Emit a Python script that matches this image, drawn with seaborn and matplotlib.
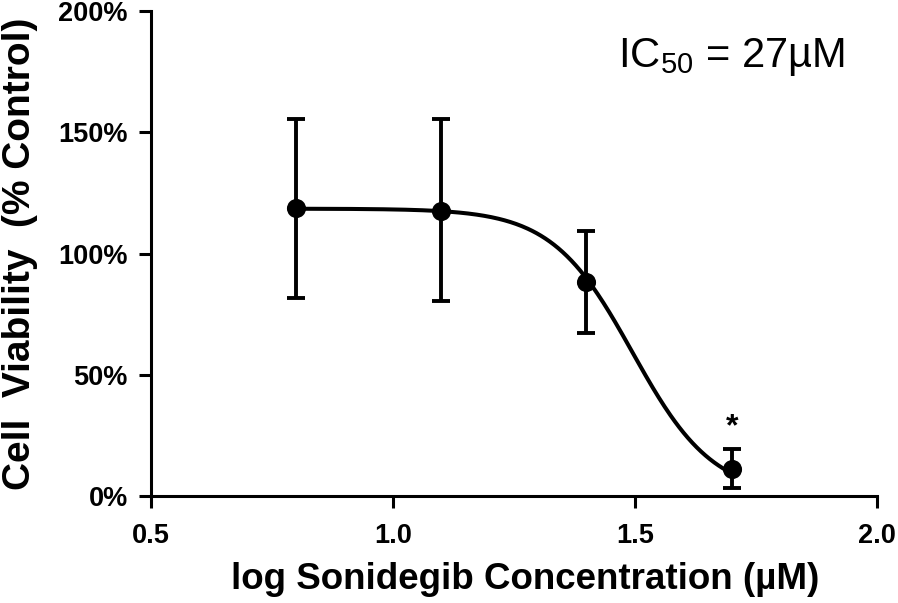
import numpy as np
import pandas as pd
import matplotlib
matplotlib.use("Agg")
import matplotlib.pyplot as plt
import seaborn as sns

# values
log_conc = [0.8, 1.1, 1.4, 1.7]
viability = [118.6, 117.7, 88.1, 11.0]
err_low = [81.6, 80.3, 67.3, 3.2]
err_high = [155.5, 155.5, 109.3, 19.3]
signif = ["", "", "", "*"]

# 4-parameter logistic fit, parameters estimated from the drawn curve
fit_top = 118.5
fit_bottom = 0.0
fit_logic50 = 1.495
fit_hill = 5.2

x_ticks = [0.5, 1.0, 1.5, 2.0]
y_ticks = [0, 50, 100, 150, 200]

sns.set_theme(style="ticks")
plt.rcParams["font.family"] = ["Liberation Sans", "DejaVu Sans"]
plt.rcParams["text.color"] = "black"
plt.rcParams["axes.labelcolor"] = "black"
plt.rcParams["mathtext.fontset"] = "custom"
plt.rcParams["mathtext.rm"] = "Liberation Sans"
plt.rcParams["mathtext.it"] = "Liberation Sans:italic"

df = pd.DataFrame({"logc": log_conc, "viab": viability})
xs = np.linspace(min(log_conc), max(log_conc), 300)
fit = pd.DataFrame({
    "logc": xs,
    "viab": fit_bottom + (fit_top - fit_bottom) / (1 + 10 ** ((xs - fit_logic50) * fit_hill)),
})

fig = plt.figure(figsize=(8.98, 6.03), dpi=100)
ax = fig.add_axes([0.168, 0.1774, 0.8085, 0.8043])

sns.lineplot(data=fit, x="logc", y="viab", color="black", linewidth=2.9, ax=ax)
yerr = [np.array(viability) - np.array(err_low), np.array(err_high) - np.array(viability)]
ax.errorbar(log_conc, viability, yerr=yerr, fmt="none", ecolor="black",
            elinewidth=2.8, capsize=6.5, capthick=2.8, zorder=3)
sns.scatterplot(data=df, x="logc", y="viab", color="black", s=190,
                edgecolor="black", linewidth=0, zorder=4, ax=ax)

for x, hi, s in zip(log_conc, err_high, signif):
    if s:
        ax.text(x, hi + 3, s, ha="center", va="bottom", fontsize=23, fontweight="bold")

ax.text(1.465, 177, "IC$_{50}$ = 27µM", fontsize=30, ha="left", va="baseline")

ax.set_xlim(0.5, 2.0)
ax.set_ylim(0, 200)
ax.set_xticks(x_ticks)
ax.set_xticklabels([f"{t:.1f}" for t in x_ticks])
ax.set_yticks(y_ticks)
ax.set_yticklabels([f"{t}%" for t in y_ticks])
ax.tick_params(direction="out", length=8.6, width=2.2, labelsize=19.5, colors="black")
ax.tick_params(axis="x", pad=11)
ax.tick_params(axis="y", pad=8)
for lab in ax.get_xticklabels() + ax.get_yticklabels():
    lab.set_fontweight("bold")

sns.despine(ax=ax)
for sp in ["left", "bottom"]:
    ax.spines[sp].set_linewidth(2.2)
    ax.spines[sp].set_color("black")

ax.set_xlabel("log Sonidegib Concentration (µM)", fontsize=26.5, fontweight="bold")
ax.set_ylabel("Cell  Viability  (% Control)", fontsize=28, fontweight="bold")
ax.xaxis.set_label_coords(0.515, -0.172)
ax.yaxis.set_label_coords(-0.18, 0.5)
ax.xaxis.label.set_va("center")
ax.yaxis.label.set_va("center")

fig.savefig("out.png", dpi=100)
